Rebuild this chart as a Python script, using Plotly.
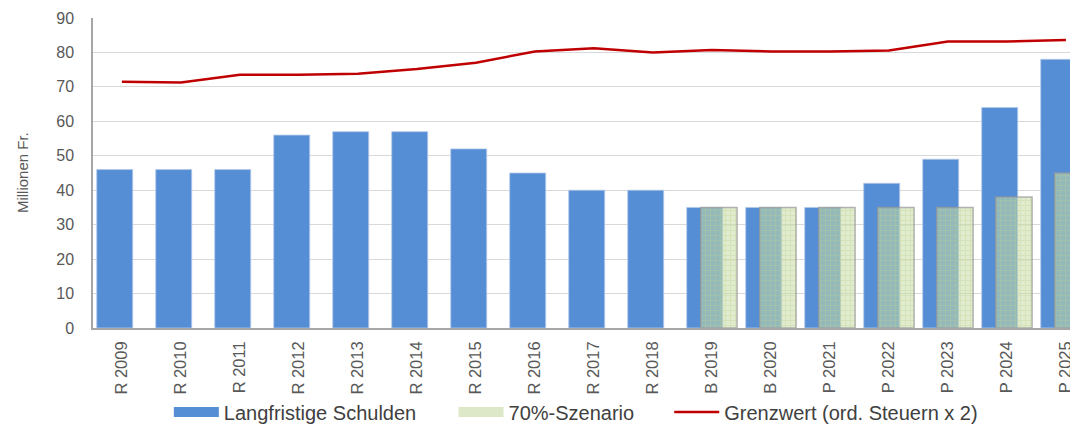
import plotly.graph_objects as go

categories = ["R 2009", "R 2010", "R 2011", "R 2012", "R 2013", "R 2014", "R 2015",
              "R 2016", "R 2017", "R 2018", "B 2019", "B 2020", "P 2021", "P 2022",
              "P 2023", "P 2024", "P 2025"]
schulden = [46, 46, 46, 56, 57, 57, 52, 45, 40, 40, 35, 35, 35, 42, 49, 64, 78]
szenario = [None, None, None, None, None, None, None, None, None, None,
            35, 35, 35, 35, 35, 38, 45]
grenzwert = [71.5, 71.3, 73.5, 73.5, 73.8, 75.2, 77.0, 80.3, 81.2, 80.0,
             80.7, 80.3, 80.3, 80.6, 83.2, 83.2, 83.6]

xi = list(range(len(categories)))
font_main = "Liberation Sans, Arial, sans-serif"
BLUE = "#558ED5"
GREEN_FILL = "rgba(200,220,165,0.55)"
RED = "#C00000"

fig = go.Figure()
fig.add_trace(go.Bar(
    x=xi, y=schulden, name="Langfristige Schulden", showlegend=False,
    width=0.61, offset=-0.427,
    marker=dict(color=BLUE, line=dict(color="rgba(180,200,235,0.8)", width=1)),
))
fig.add_trace(go.Bar(
    x=xi, y=szenario, name="70%-Szenario", showlegend=False,
    width=0.617, offset=-0.19,
    marker=dict(color=GREEN_FILL,
                line=dict(color="rgba(150,150,150,0.7)", width=1.5),
                pattern=dict(shape="+", fgcolor="rgba(185,210,140,0.9)", size=5, solidity=0.25)),
))
fig.add_trace(go.Scatter(
    x=xi, y=grenzwert, name="Grenzwert (ord. Steuern x 2)", showlegend=False,
    mode="lines", line=dict(color=RED, width=2.5),
))

# legend-only entries (wide rectangular keys like the original)
fig.add_trace(go.Scatter(x=[None], y=[None], mode="lines", name="Langfristige Schulden",
                         line=dict(color=BLUE, width=11), legend="legend"))
fig.add_trace(go.Scatter(x=[None], y=[None], mode="lines", name="70%-Szenario",
                         line=dict(color="#DCE8C8", width=11), legend="legend2"))
fig.add_trace(go.Scatter(x=[None], y=[None], mode="lines", name="Grenzwert (ord. Steuern x 2)",
                         line=dict(color=RED, width=2.5), legend="legend3"))

leg_font = dict(size=20, family=font_main, color="#404040")
leg_common = dict(orientation="h", yref="container", y=0.031, yanchor="middle",
                  xanchor="left", font=leg_font, itemwidth=45, bgcolor="rgba(0,0,0,0)")

fig.update_layout(
    width=1070, height=417,
    margin=dict(l=85, r=0, t=10, b=97, autoexpand=False),
    barmode="overlay",
    plot_bgcolor="white", paper_bgcolor="white",
    font=dict(family=font_main, color="#595959"),
    showlegend=True,
    legend=dict(x=0.077, **leg_common),
    legend2=dict(x=0.366, **leg_common),
    legend3=dict(x=0.585, **leg_common),
    xaxis=dict(
        range=[-0.49, 16.205], tickmode="array", tickvals=xi, ticktext=categories,
        tickangle=-90, tickfont=dict(size=16.5, color="#595959"),
        showgrid=False, showline=True, linecolor="#A6A6A6", linewidth=1.5,
        ticks="", zeroline=False, automargin=False, ticklabelstandoff=5,
    ),
    yaxis=dict(
        range=[0, 90], dtick=10, tickfont=dict(size=16, color="#595959"),
        showgrid=True, gridcolor="#D9D9D9", gridwidth=1,
        showline=True, linecolor="#A6A6A6", linewidth=1.5,
        zeroline=False, ticks="", ticklabelstandoff=14, automargin=False,
    ),
    annotations=[dict(text="Millionen Fr.", xref="paper", yref="paper",
                      x=-0.072, y=0.5, xanchor="center", yanchor="middle",
                      textangle=-90, showarrow=False,
                      font=dict(size=15, color="#595959", family=font_main))],
)

fig.write_html("out.html")
